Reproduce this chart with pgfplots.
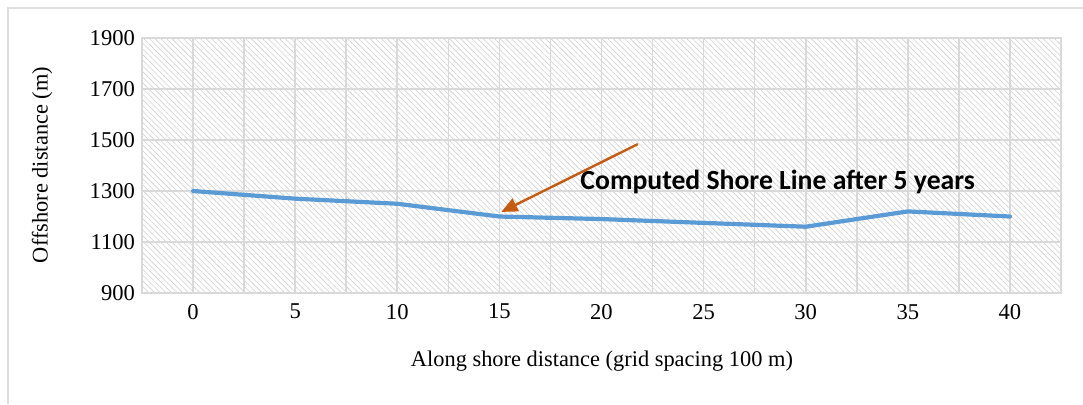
\documentclass[border=0pt]{standalone}
\usepackage{pgfplots}
\pgfplotsset{compat=1.18}
\usepackage{fontspec}
\setmainfont{Liberation Serif}
\newfontfamily\calibri{Carlito}
\usetikzlibrary{patterns.meta,arrows.meta}
\definecolor{lineblue}{HTML}{5B9BD5}
\definecolor{arroworange}{HTML}{C55A11}
\definecolor{gridgray}{HTML}{D9D9D9}
\begin{document}
\begin{tikzpicture}
\path[use as bounding box] (0pt,0pt) rectangle (541.5pt,-202pt);
\draw[gray!25, line width=1pt] (4pt,-202pt) -- (4pt,-4pt) -- (541.5pt,-4pt);
\begin{axis}[
  at={(71pt,-146.5pt)}, anchor=south west,
  scale only axis, width=459.5pt, height=127.5pt,
  xmin=-2.5, xmax=42.5, ymin=900, ymax=1900,
  xtick={0,5,...,40}, minor xtick={-2.5,2.5,...,42.5},
  ytick={900,1100,...,1900},
  xmajorgrids, xminorgrids, ymajorgrids,
  major grid style={gridgray, line width=0.8pt},
  minor grid style={gridgray, line width=0.8pt},
  tick style={draw=none},
  axis line style={gridgray, line width=0.8pt},
  axis background/.style={pattern={Lines[angle=-45,distance=2pt,line width=0.3pt]}, pattern color=gray!38},
  ticklabel style={font=\fontsize{11.3}{13}\selectfont},
  /pgf/number format/assume math mode=true,
  /pgf/number format/set thousands separator={},
  xticklabel style={yshift=-2pt},
  xlabel={Along shore distance (grid spacing 100 m)},
  ylabel={Offshore distance (m)},
  label style={font=\fontsize{11.2}{13}\selectfont},
  xlabel style={at={(axis description cs:0.5005,-0.267)}, anchor=center},
  ylabel style={at={(axis description cs:-0.1088,0.502)}, anchor=center},
  clip=false,
]
\addplot[lineblue, line width=2.1pt, line join=round, line cap=round] coordinates {
 (0,1300) (5,1270) (10,1250) (15,1200) (20,1190) (25,1175) (30,1160) (35,1220) (40,1200)
};
\draw[arroworange, line width=1.2pt, -{Triangle[length=8pt,width=7pt]}] (axis cs:21.78,1484) -- (axis cs:15.1,1218);
\node[anchor=west, inner sep=0pt, font=\calibri\bfseries\fontsize{13.85}{16}\selectfont] at (axis cs:18.95,1336) {Computed Shore Line after 5 years};
\end{axis}
\end{tikzpicture}
\end{document}
